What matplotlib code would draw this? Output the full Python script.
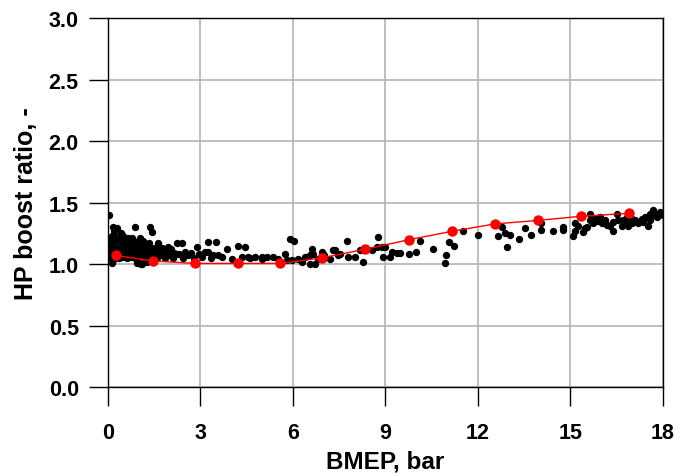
import matplotlib
matplotlib.use("Agg")
import matplotlib.pyplot as plt

plt.rcParams['font.family'] = ['Liberation Sans', 'DejaVu Sans']

# medido: pontos pretos (BMEP, razao)
bmep_med = [
    0.02, 0.05, 0.08, 0.10, 0.12, 0.12, 0.15, 0.17, 0.20, 0.22, 0.25, 0.28, 0.30, 0.33,
    0.35, 0.38, 0.40, 0.42, 0.45, 0.48, 0.50, 0.52, 0.55, 0.58, 0.60, 0.62, 0.65, 0.68,
    0.70, 0.72, 0.75, 0.77, 0.80, 0.82, 0.85, 0.88, 0.90, 0.92, 0.95, 0.98, 1.00, 1.02,
    1.04, 1.06, 1.10, 1.12, 1.15, 1.18, 1.20, 1.22, 1.25, 1.28, 1.30, 1.33, 1.36, 1.38,
    1.42, 1.45, 1.48, 1.50, 1.55, 1.60, 1.63, 1.65, 1.70, 1.75, 1.80, 1.85, 1.90, 1.96,
    2.00, 2.05, 2.10, 2.15, 2.23, 2.30, 2.39, 2.45, 2.50, 2.60, 2.70, 2.80, 2.88, 2.95,
    3.05, 3.15, 3.25, 3.24, 3.35, 3.42, 0.05, 0.18, 0.32, 0.46, 0.63, 0.95, 1.08, 1.26,
    0.02, 0.15, 0.36, 0.57, 0.74, 1.17, 0.26, 0.43, 0.67, 0.86, 1.13, 1.40, 1.72, 2.20,
    3.52, 3.58, 3.69, 3.85, 4.01, 4.23, 4.34, 4.44, 4.55, 4.60, 4.77, 4.99, 5.00, 5.15,
    5.36, 5.50, 5.74, 5.80, 5.90, 5.96, 6.05, 6.17, 6.30, 6.39, 6.55, 6.55, 6.61, 6.66,
    6.71, 6.80, 6.93, 7.00, 7.20, 7.31, 7.36, 7.46, 7.53, 7.74, 7.80, 8.01, 8.17, 8.28,
    8.55, 8.72, 8.77, 8.88, 8.93, 8.98, 9.15, 9.20, 9.36, 9.47, 9.76, 9.99, 10.12, 10.53,
    10.93, 10.96, 11.06, 11.23, 11.52, 12.01, 12.66, 12.77, 12.88, 12.93, 13.04, 13.34,
    13.53, 13.71, 14.04, 14.04, 14.42, 14.75, 14.77, 15.09, 15.15, 15.15, 15.25, 15.42,
    15.47, 15.63, 15.63, 15.74, 15.80, 15.96, 16.01, 16.12, 16.28, 16.39, 16.39, 16.50,
    16.55, 16.66, 16.77, 16.82, 16.88, 16.99, 17.09, 17.20, 17.31, 17.36, 17.42, 17.53,
    17.58, 17.58, 17.69, 17.80, 17.90, 18.00, 15.55, 15.90, 16.20, 16.70, 17.00, 17.75,
]
razao_med = [
    1.40, 1.16, 1.12, 1.08, 1.01, 1.23, 1.18, 1.30, 1.27, 1.15, 1.10, 1.29, 1.22, 1.13,
    1.05, 1.19, 1.09, 1.25, 1.12, 1.16, 1.23, 1.07, 1.10, 1.19, 1.14, 1.05, 1.21, 1.09,
    1.12, 1.17, 1.06, 1.21, 1.10, 1.14, 1.08, 1.30, 1.18, 1.04, 1.12, 1.09, 1.16, 1.01,
    1.21, 1.07, 1.13, 1.00, 1.19, 1.10, 1.05, 1.15, 1.08, 1.12, 1.04, 1.17, 1.30, 1.09,
    1.26, 1.06, 1.13, 1.10, 1.08, 1.05, 1.17, 1.11, 1.07, 1.13, 1.09, 1.05, 1.10, 1.14,
    1.07, 1.12, 1.05, 1.09, 1.17, 1.08, 1.17, 1.05, 1.10, 1.07, 1.09, 1.05, 1.14, 1.08,
    1.06, 1.10, 1.18, 1.10, 1.05, 1.07, 1.06, 1.04, 1.08, 1.06, 1.08, 1.01, 1.00, 1.02,
    1.20, 1.14, 1.10, 1.12, 1.15, 1.06, 1.11, 1.09, 1.13, 1.11, 1.09, 1.12, 1.10, 1.08,
    1.18, 1.07, 1.06, 1.12, 1.04, 1.15, 1.06, 1.14, 1.06, 1.05, 1.06, 1.06, 1.04, 1.06,
    1.06, 1.04, 1.08, 1.03, 1.20, 1.03, 1.19, 1.04, 1.02, 1.06, 1.07, 1.00, 1.12, 1.08,
    1.00, 1.04, 1.10, 1.07, 1.04, 1.11, 1.11, 1.07, 1.08, 1.19, 1.06, 1.06, 1.11, 1.02,
    1.11, 1.14, 1.22, 1.14, 1.06, 1.14, 1.06, 1.10, 1.09, 1.09, 1.08, 1.10, 1.19, 1.12,
    1.01, 1.07, 1.18, 1.15, 1.27, 1.24, 1.23, 1.30, 1.25, 1.14, 1.24, 1.20,
    1.29, 1.24, 1.33, 1.28, 1.27, 1.28, 1.30, 1.23, 1.27, 1.33, 1.31, 1.26,
    1.29, 1.41, 1.36, 1.33, 1.37, 1.38, 1.33, 1.36, 1.31, 1.27, 1.34, 1.41,
    1.36, 1.31, 1.34, 1.38, 1.31, 1.37, 1.36, 1.33, 1.37, 1.34, 1.38, 1.31,
    1.41, 1.36, 1.44, 1.38, 1.42, 1.40, 1.30, 1.35, 1.32, 1.36, 1.33, 1.40,
]

# modelo: pontos vermelhos
bmep_mod = [0.25, 1.47, 2.81, 4.21, 5.59, 6.94, 8.34, 9.77, 11.15, 12.55, 13.96, 15.34, 16.89]
razao_mod = [1.07, 1.025, 1.005, 1.005, 1.005, 1.05, 1.12, 1.198, 1.266, 1.326, 1.355, 1.388, 1.412]

fig = plt.figure(figsize=(6.92, 4.77), dpi=100)
ax = fig.add_axes([0.156, 0.1866, 0.802, 0.7734])

ax.scatter(bmep_med, razao_med, s=28, color='black', zorder=3, linewidths=0)
ax.plot(bmep_mod, razao_mod, '-', color='red', lw=1.0, zorder=4)
ax.plot(bmep_mod, razao_mod, 'o', color='red', ms=7.5, mec='none', zorder=5)

ax.set_xlim(0, 18)
ax.set_ylim(0, 3)
ax.set_xticks([0, 3, 6, 9, 12, 15, 18])
ax.set_yticks([0.0, 0.5, 1.0, 1.5, 2.0, 2.5, 3.0])
ax.set_yticklabels(['0.0', '0.5', '1.0', '1.5', '2.0', '2.5', '3.0'])
ax.grid(True, color='#b4b4b4', lw=1.2)
ax.set_axisbelow(True)
ax.tick_params(direction='out', length=14, width=1, labelsize=15.5)
ax.tick_params(axis='x', pad=11)
ax.tick_params(axis='y', pad=7)
for lab in ax.get_xticklabels() + ax.get_yticklabels():
    lab.set_fontweight('bold')
for s in ax.spines.values():
    s.set_linewidth(1.0)

ax.set_xlabel("BMEP, bar", fontsize=17.5, fontweight='bold', labelpad=5)
ax.set_ylabel("HP boost ratio, -", fontsize=18, fontweight='bold', labelpad=8)

plt.savefig("out.png", dpi=100)
